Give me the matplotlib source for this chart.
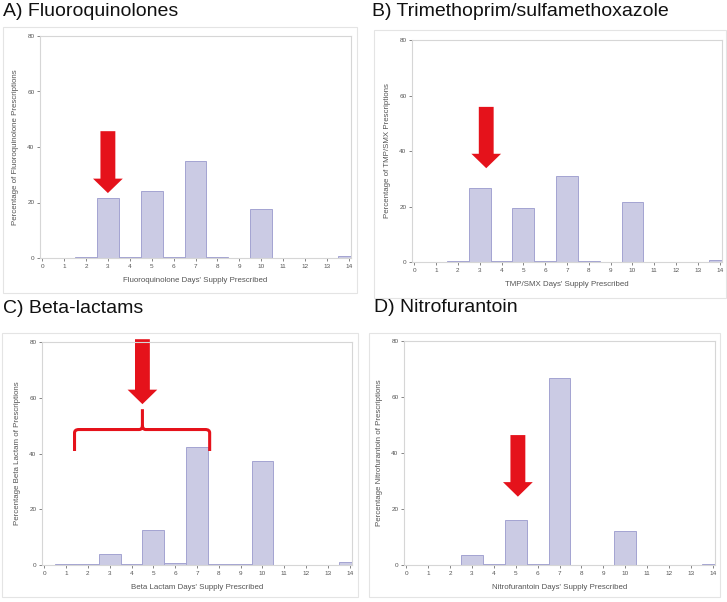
import numpy as np
import matplotlib.pyplot as plt
from matplotlib.patches import FancyArrow, Rectangle, PathPatch
from matplotlib.path import Path

plt.rcParams['font.family'] = ['Liberation Sans', 'DejaVu Sans']

days = np.arange(1, 15)

# percentage of prescriptions per days' supply (days 1..14)
fq_pct = [0.0, 0.2, 21.5, 0.3, 24.0, 0.5, 35.0, 0.2, 0.0, 17.8, 0.0, 0.0, 0.0, 0.7]
tmp_pct = [0.0, 0.2, 26.5, 0.3, 19.6, 0.3, 30.9, 0.2, 0.0, 21.7, 0.0, 0.0, 0.0, 0.8]
bl_pct = [0.3, 0.2, 4.1, 0.3, 12.7, 0.6, 42.5, 0.3, 0.2, 37.4, 0.0, 0.0, 0.0, 1.2]
nf_pct = [0.0, 0.0, 3.5, 0.2, 16.0, 0.2, 66.9, 0.0, 0.0, 12.3, 0.0, 0.0, 0.0, 0.5]

titles = ["A) Fluoroquinolones", "B) Trimethoprim/sulfamethoxazole",
          "C) Beta-lactams", "D) Nitrofurantoin"]
xlabels = ["Fluoroquinolone Days' Supply Prescribed",
           "TMP/SMX Days' Supply Prescribed",
           "Beta Lactam Days' Supply Prescribed",
           "Nitrofurantoin Days' Supply Prescribed"]
ylabels = ["Percentage of Fluoroquinolone Prescriptions",
           "Percentage of TMP/SMX Prescriptions",
           "Percentage Beta Lactam of Prescriptions",
           "Percentage Nitrofurantoin of Prescriptions"]
series = [fq_pct, tmp_pct, bl_pct, nf_pct]

# arrows: (x, top, tip)
arrows = [(3.0, 45.7, 23.4), (3.3, 55.9, 33.8), (4.5, 81.0, 57.7), (5.1, 46.4, 24.4)]

W, H = 727, 602
fig = plt.figure(figsize=(W / 100, H / 100), dpi=100)

# pixel boxes (left, top, right, bottom)
ax_boxes = [(40, 36, 351, 258), (412, 40, 722, 262),
            (42, 342, 352, 565), (404, 341, 715, 565)]
outer_boxes = [(3, 27, 357, 293), (374, 30, 726, 298),
               (2, 333, 358, 597), (369, 333, 720, 597)]
title_pos = [(3, 16), (372, 16), (3, 313), (374, 312)]

for (l, t, r, b) in outer_boxes:
    fig.patches.append(Rectangle((l / W, 1 - b / H), (r - l) / W, (b - t) / H,
                                 transform=fig.transFigure, fill=False,
                                 edgecolor='#e4e4e4', lw=0.8))

for i in range(4):
    l, t, r, b = ax_boxes[i]
    ax = fig.add_axes([l / W, 1 - b / H, (r - l) / W, (b - t) / H])
    ax.bar(days, series[i], width=1.0, color='#cbcbe4', edgecolor='#a4a4d2', lw=0.7)
    ax.set_xlim(-0.1, 14.1)
    ax.set_ylim(0, 80)
    ax.set_xticks(range(0, 15))
    ax.set_yticks([0, 20, 40, 60, 80])
    ax.tick_params(labelsize=4.6, colors='#555555', length=2, width=0.5, pad=2)
    for s in ax.spines.values():
        s.set_color('#d6d6d6')
        s.set_linewidth(0.8)
    ax.set_xlabel(xlabels[i], fontsize=5.7, color='#555555', labelpad=6)
    ax.set_ylabel(ylabels[i], fontsize=5.7, color='#555555', labelpad=6)

    x, top, tip = arrows[i]
    ax.add_patch(FancyArrow(x, top, 0, tip - top, width=0.68, head_width=1.36,
                            head_length=5.2, length_includes_head=True,
                            color='#e5121b', lw=0, clip_on=False))

    if i == 2:
        # curly brace over days 1-7
        xl, xr, xm = 1.39, 7.58, 4.5
        yb, yh, ytop = 40.9, 48.6, 55.9
        verts = [(xl, yb), (xl, yh - 1.2), (xl, yh), (xl + 0.2, yh),
                 (xm - 0.15, yh), (xm, yh), (xm, yh + 1.5), (xm, ytop),
                 (xm, yh + 1.5), (xm, yh), (xm + 0.15, yh),
                 (xr - 0.2, yh), (xr, yh), (xr, yh - 1.2), (xr, yb)]
        codes = [Path.MOVETO, Path.LINETO, Path.CURVE3, Path.CURVE3,
                 Path.LINETO, Path.CURVE3, Path.CURVE3, Path.LINETO,
                 Path.MOVETO, Path.CURVE3, Path.CURVE3,
                 Path.LINETO, Path.CURVE3, Path.CURVE3, Path.LINETO]
        ax.add_patch(PathPatch(Path(verts, codes), fill=False, edgecolor='#e5121b',
                               lw=2.2, capstyle='butt', clip_on=False))

    tx, ty = title_pos[i]
    fig.text(tx / W, 1 - ty / H, titles[i], fontsize=14, color='#111111',
             ha='left', va='baseline')

fig.savefig("out.png", dpi=100)
